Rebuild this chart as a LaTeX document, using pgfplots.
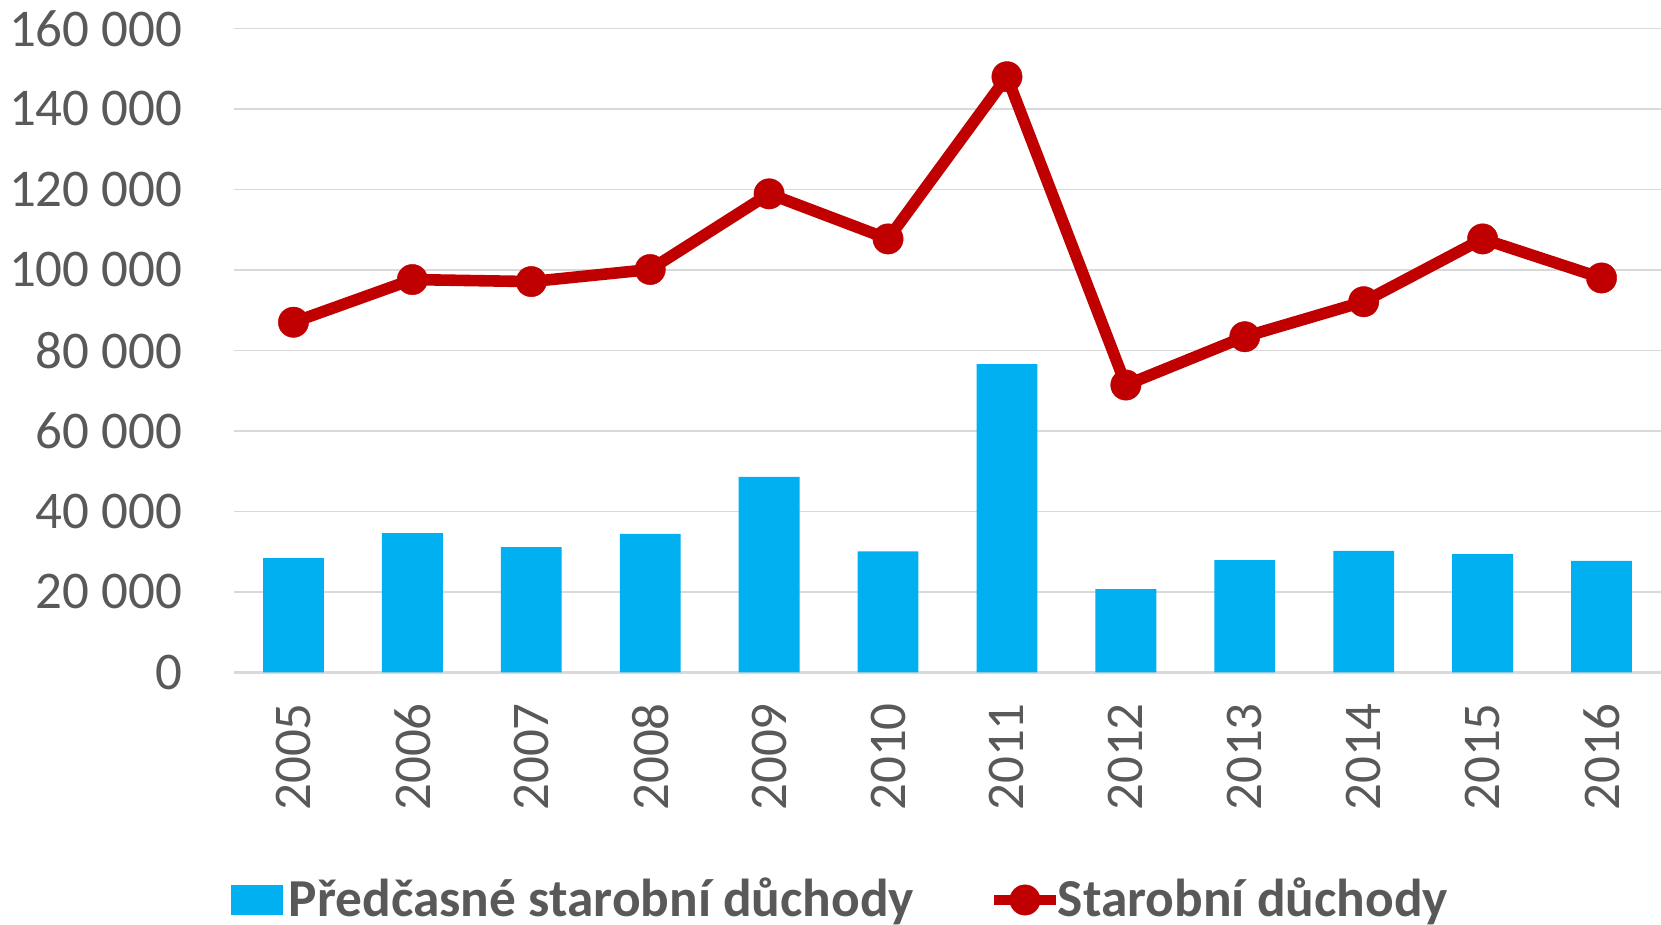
\documentclass[border=0pt]{standalone}
\usepackage{fontspec}
\setmainfont{Carlito}
\usepackage{pgfplots}
\pgfplotsset{compat=1.18}
\definecolor{barblue}{HTML}{00B0F0}
\definecolor{linered}{HTML}{C00000}
\definecolor{txtgray}{HTML}{595959}
\definecolor{gridgray}{HTML}{D9D9D9}
\begin{document}
\begin{tikzpicture}
\begin{axis}[
  scale only axis, width=356.75pt, height=161pt,
  at={(0,0)}, anchor=south west,
  xmin=-0.5, xmax=11.5, ymin=0, ymax=160000,
  xtick={0,1,2,3,4,5,6,7,8,9,10,11},
  xticklabels={2005,2006,2007,2008,2009,2010,2011,2012,2013,2014,2015,2016},
  ytick={0,20000,40000,60000,80000,100000,120000,140000,160000},
  yticklabels={0,20 000,40 000,60 000,80 000,100 000,120 000,140 000,160 000},
  scaled y ticks=false,
  ymajorgrids, grid style={gridgray, line width=0.4pt},
  major tick length=0pt,
  axis x line*=bottom, axis y line*=left,
  x axis line style={gridgray, line width=0.6pt, -},
  y axis line style={draw=none},
  tick label style={font=\fontsize{13.25pt}{15pt}\selectfont, text=txtgray},
  yticklabel style={anchor=east, inner sep=0pt, xshift=-12.75pt},
  xticklabel style={yshift=-7.5pt, rotate=90, anchor=east, inner sep=0pt},
  legend style={at={(-0.0021,-0.3534)}, anchor=west, draw=none, fill=none,
    inner sep=0pt, outer sep=0pt,
    font=\bfseries\fontsize{13.35pt}{15pt}\selectfont, text=txtgray,
    nodes={inner sep=0pt},
    /tikz/every even column/.append style={column sep=18.6pt},
    /tikz/every odd column/.append style={column sep=-0.9pt}},
  legend columns=2, legend cell align=left,
]
\addplot[ybar, bar width=15.2pt, bar shift=0pt, fill=barblue, draw=none,
  legend image code/.code={\fill[barblue] (0pt,-3.75pt) rectangle (13pt,3.75pt);
    \fill[white, opacity=0] (13pt,-1pt) rectangle (15.4pt,1pt);}]
  coordinates {(0,28400) (1,34600) (2,31100) (3,34400) (4,48600) (5,30100)
               (6,76600) (7,20700) (8,27900) (9,30200) (10,29400) (11,27700)};
\addlegendentry{Předčasné starobní důchody}
\addplot[linered, line width=2.9pt, mark=*, mark size=3.8pt,
  mark options={solid, line width=0.1pt, draw=linered, fill=linered},
  legend image code/.code={\draw[linered, line width=2.7pt, mark=*, mark size=3.8pt, mark options={solid, line width=0.1pt, draw=linered, fill=linered}, mark repeat=2, mark phase=2] plot coordinates {(0pt,0pt) (7.75pt,0pt) (15.5pt,0pt)};}]
  coordinates {(0,87000) (1,97600) (2,97100) (3,100100) (4,118900) (5,107700)
               (6,148000) (7,71400) (8,83400) (9,92100) (10,107700) (11,98000)};
\addlegendentry{Starobní důchody}
\end{axis}
\pgfresetboundingbox
\useasboundingbox (-58.5pt,-62.9pt) rectangle (356.75pt,168.1pt);
\end{tikzpicture}
\end{document}
